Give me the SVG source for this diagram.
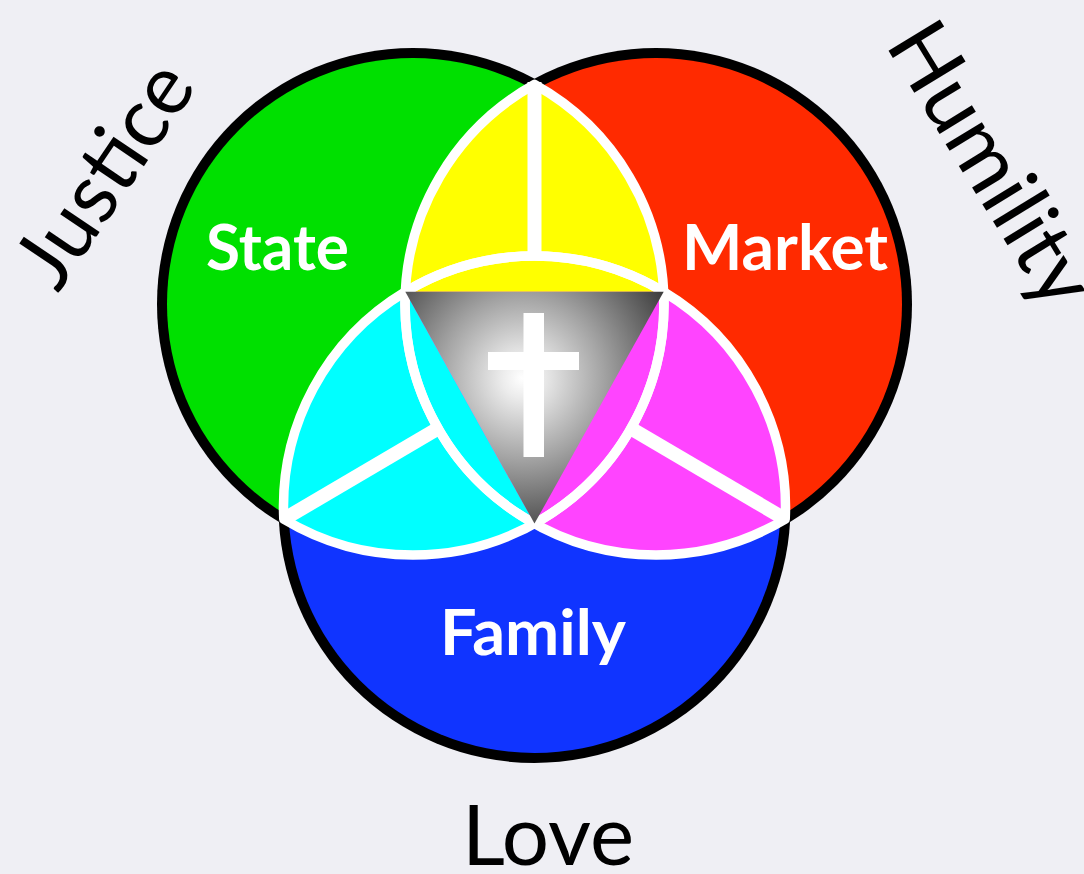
<svg xmlns="http://www.w3.org/2000/svg" width="1084" height="874" viewBox="0 0 1084 874">
<defs>
  <radialGradient id="glow" gradientUnits="userSpaceOnUse" cx="522" cy="378" r="165">
    <stop offset="0" stop-color="#ffffff"/>
    <stop offset="0.12" stop-color="#ececec"/>
    <stop offset="0.5" stop-color="#a2a2a2"/>
    <stop offset="1" stop-color="#3c3c3c"/>
  </radialGradient>
  <style>
    .ring{fill:#000}
    .outline{fill:none;stroke:#fff;stroke-width:9.5;stroke-linejoin:round}
    .div{stroke:#fff;stroke-width:14;stroke-linecap:butt}
    .lbl{font-family:Lato,"Open Sans","DejaVu Sans",sans-serif;font-weight:700;font-size:64px;fill:#fff;text-anchor:middle}
    .virtue{font-family:Lato,"Open Sans","DejaVu Sans",sans-serif;font-weight:400;font-size:84px;fill:#000;text-anchor:middle}
  </style>
</defs>
<rect width="1084" height="874" fill="#efeff4"/>

<g id="outlines">
  <circle class="ring" cx="413" cy="304" r="256"/>
  <circle class="ring" cx="656" cy="304" r="256"/>
  <circle class="ring" cx="534.5" cy="507" r="256"/>
</g>

<g id="state">
  <circle cx="413" cy="304" r="246" fill="#00e000"/>
</g>
<g id="market">
  <circle cx="656" cy="304" r="246" fill="#ff2a00"/>
</g>
<g id="family">
  <circle cx="534.5" cy="507" r="246" fill="#1034ff"/>
</g>

<g id="overlaps">
  <path id="state-market" d="M534.5,84.4 A251,251 0 0 0 534.5,523.6 A251,251 0 0 0 534.5,84.4 Z" fill="#ffff00"/>
  <path id="state-family" d="M663.7,291.8 A251,251 0 0 0 283.8,519.2 A251,251 0 0 0 663.7,291.8 Z" fill="#00ffff"/>
  <path id="market-family" d="M405.3,291.8 A251,251 0 0 1 785.2,519.2 A251,251 0 0 1 405.3,291.8 Z" fill="#ff44ff"/>
  <path d="M405.3,291.8 A251,251 0 0 1 663.7,291.8 Z" fill="#ffff00"/>
  <path d="M405.3,291.8 A251,251 0 0 0 534.5,523.6 Z" fill="#00ffff"/>
  <path d="M663.7,291.8 A251,251 0 0 1 534.5,523.6 Z" fill="#ff44ff"/>
  <path class="outline" d="M534.5,84.4 A251,251 0 0 0 534.5,523.6 A251,251 0 0 0 534.5,84.4 Z"/>
  <path class="outline" d="M663.7,291.8 A251,251 0 0 0 283.8,519.2 A251,251 0 0 0 663.7,291.8 Z"/>
  <path class="outline" d="M405.3,291.8 A251,251 0 0 1 785.2,519.2 A251,251 0 0 1 405.3,291.8 Z"/>
  <line class="div" x1="534.5" y1="82" x2="534.5" y2="258"/>
  <line class="div" x1="285" y1="518.5" x2="438" y2="428.5"/>
  <line class="div" x1="784" y1="518.5" x2="631" y2="428.5"/>
</g>

<g id="center">
  <path d="M405.3,291.8 L663.7,291.8 L534.5,523.6 Z" fill="url(#glow)"/>
  <rect x="523.5" y="313" width="20.5" height="144" fill="#fff"/>
  <rect x="488" y="352" width="91" height="18" fill="#fff"/>
</g>

<g id="labels">
  <text class="lbl" x="277.5" y="270" textLength="143" lengthAdjust="spacingAndGlyphs">State</text>
  <text class="lbl" x="785" y="270" textLength="206" lengthAdjust="spacingAndGlyphs">Market</text>
  <text class="lbl" x="533" y="655" textLength="186" lengthAdjust="spacingAndGlyphs">Family</text>
</g>

<g id="virtues">
  <text class="virtue" transform="translate(128,190) rotate(-56)" textLength="250" lengthAdjust="spacingAndGlyphs">Justice</text>
  <text class="virtue" transform="translate(967,179) rotate(58.5)" textLength="316" lengthAdjust="spacingAndGlyphs">Humility</text>
  <text class="virtue" x="548" y="865" textLength="172" lengthAdjust="spacingAndGlyphs">Love</text>
</g>
</svg>
